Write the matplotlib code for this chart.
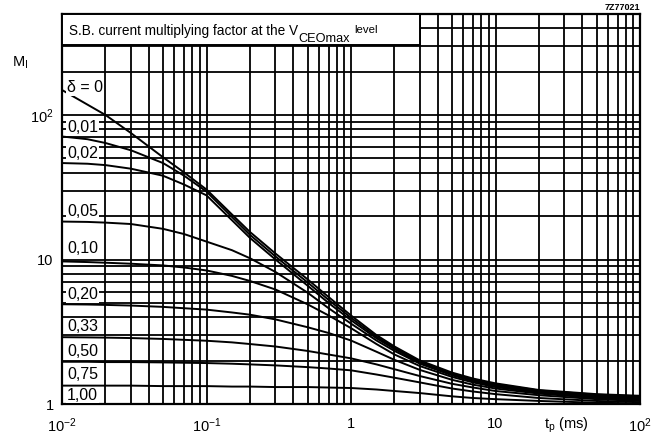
import matplotlib
matplotlib.use("Agg")
import matplotlib.pyplot as plt
from matplotlib.patches import Rectangle

plt.rcParams['font.family'] = ['Liberation Sans', 'DejaVu Sans']
plt.rcParams['mathtext.fontset'] = 'custom'
plt.rcParams['mathtext.rm'] = 'Liberation Sans'
plt.rcParams['mathtext.it'] = 'Liberation Sans'

# pulse time t_p (ms)
tp = [0.01, 0.015, 0.02, 0.03, 0.05, 0.07, 0.1, 0.15, 0.2, 0.3, 0.5, 0.7,
      1, 1.5, 2, 3, 5, 7, 10, 20, 50, 100]

# current multiplying factor M_I for each duty factor
m_000 = [149, 118, 100, 75, 51, 40, 30.5, 20.5, 15.5, 11.0, 7.3, 5.5,
         4.1, 3.0, 2.5, 2.0, 1.65, 1.5, 1.39, 1.25, 1.17, 1.14]
m_001 = [71, 68, 64, 57, 46.5, 38, 29.5, 19.7, 14.8, 10.5, 6.95, 5.25,
         3.95, 2.92, 2.45, 1.96, 1.62, 1.47, 1.37, 1.24, 1.16, 1.13]
m_002 = [46.5, 46, 45, 42.5, 38, 33, 27.8, 18.7, 14.1, 10.0, 6.6, 5.0,
         3.8, 2.85, 2.4, 1.93, 1.6, 1.45, 1.35, 1.23, 1.15, 1.12]
m_005 = [18.3, 18.2, 18.0, 17.6, 16.3, 15.0, 13.3, 11.6, 10.2, 8.2, 5.9, 4.6,
         3.6, 2.75, 2.33, 1.9, 1.58, 1.44, 1.33, 1.21, 1.13, 1.10]
m_010 = [9.7, 9.6, 9.5, 9.35, 9.1, 8.8, 8.4, 7.7, 7.1, 6.2, 4.9, 4.1,
         3.35, 2.6, 2.2, 1.83, 1.54, 1.41, 1.31, 1.20, 1.12, 1.09]
m_020 = [4.9, 4.88, 4.85, 4.8, 4.7, 4.6, 4.5, 4.3, 4.15, 3.85, 3.4, 3.1,
         2.75, 2.3, 2.02, 1.72, 1.47, 1.36, 1.28, 1.18, 1.10, 1.07]
m_033 = [2.9, 2.89, 2.88, 2.86, 2.82, 2.78, 2.74, 2.67, 2.6, 2.5, 2.33, 2.2,
         2.07, 1.88, 1.74, 1.56, 1.38, 1.30, 1.23, 1.15, 1.08, 1.05]
m_050 = [1.96, 1.96, 1.95, 1.95, 1.94, 1.93, 1.92, 1.9, 1.88, 1.85, 1.8, 1.76,
         1.71, 1.6, 1.52, 1.41, 1.28, 1.22, 1.17, 1.10, 1.05, 1.03]
m_075 = [1.34, 1.34, 1.34, 1.34, 1.33, 1.33, 1.33, 1.32, 1.32, 1.31, 1.31, 1.30,
         1.29, 1.26, 1.23, 1.19, 1.13, 1.10, 1.08, 1.05, 1.02, 1.01]
m_100 = [1.0] * len(tp)

curves = [m_000, m_001, m_002, m_005, m_010, m_020, m_033, m_050, m_075, m_100]
labels = ["\u03b4 = 0", "0,01", "0,02", "0,05", "0,10", "0,20", "0,33",
          "0,50", "0,75", "1,00"]
label_lift = [2, 9, 10, 10, 13, 10, 11, 10, 11, 9]

fig = plt.figure(figsize=(6.66, 4.37), dpi=100)
ax = fig.add_axes([62/666, 1-404/437, 578/666, 390/437])
ax.set_xscale('log')
ax.set_yscale('log')
ax.set_xlim(0.01, 100)
ax.set_ylim(1, 500)

ax.grid(True, which='both', color='black', lw=1.3)
ax.set_axisbelow(True)
for s in ax.spines.values():
    s.set_linewidth(1.6)
ax.tick_params(which='both', length=0)
ax.tick_params(axis='x', pad=9, labelsize=10.5)
ax.tick_params(axis='y', pad=6, labelsize=10.5)
ax.set_xticks([0.01, 0.1, 1, 10, 100])
ax.set_xticklabels([r"10$^{-2}$", r"10$^{-1}$", "1", "10", r"10$^{2}$"])
ax.set_yticks([1, 10, 100])
ax.set_yticklabels(["1", "10", r"10$^{2}$"])

for m, lab, lift in zip(curves, labels, label_lift):
    ax.plot(tp, m, color='black', lw=1.4, zorder=3)
    ax.annotate(lab, (tp[0], m[0]), xytext=(5, lift), textcoords='offset pixels',
                ha='left', va='center', fontsize=11.5, zorder=4,
                bbox=dict(facecolor='white', edgecolor='none', pad=0.6))

# title box
ax.add_patch(Rectangle((0, (404-45)/390), (420-62)/578, 1-(404-45)/390,
                       transform=ax.transAxes, facecolor='white',
                       edgecolor='black', lw=1.4, zorder=5, clip_on=False))
renderer = fig.canvas.get_renderer()
to_fig = fig.transFigure.inverted()
t1 = fig.text(69/666, 1-35/437, "S.B. current multiplying factor at the V",
              fontsize=9.8, va='baseline', ha='left', zorder=6)
x1 = to_fig.transform(t1.get_window_extent(renderer).corners()[-1])[0]
t2 = fig.text(x1, 1-42/437, "CEOmax", fontsize=9.2, va='baseline', ha='left', zorder=6)
x2 = to_fig.transform(t2.get_window_extent(renderer).corners()[-1])[0]
fig.text(x2 + 5/666, 1-33/437, "level", fontsize=8.2, va='baseline', ha='left', zorder=6)

ax.annotate(r"t$_{\mathregular{p}}$ (ms)", (31, 0), xycoords=('data', 'axes fraction'),
            xytext=(0, -21), textcoords='offset pixels', ha='center', va='center',
            fontsize=10.5)
fig.text(20/666, 1-63/437, r"M$_{\mathregular{I}}$", fontsize=10.5, ha='center', va='center')
fig.text(640/666, 1-8/437, "7Z77021", fontsize=6.5, fontweight='bold',
         ha='right', va='center')

fig.savefig("out.png", dpi=100)
